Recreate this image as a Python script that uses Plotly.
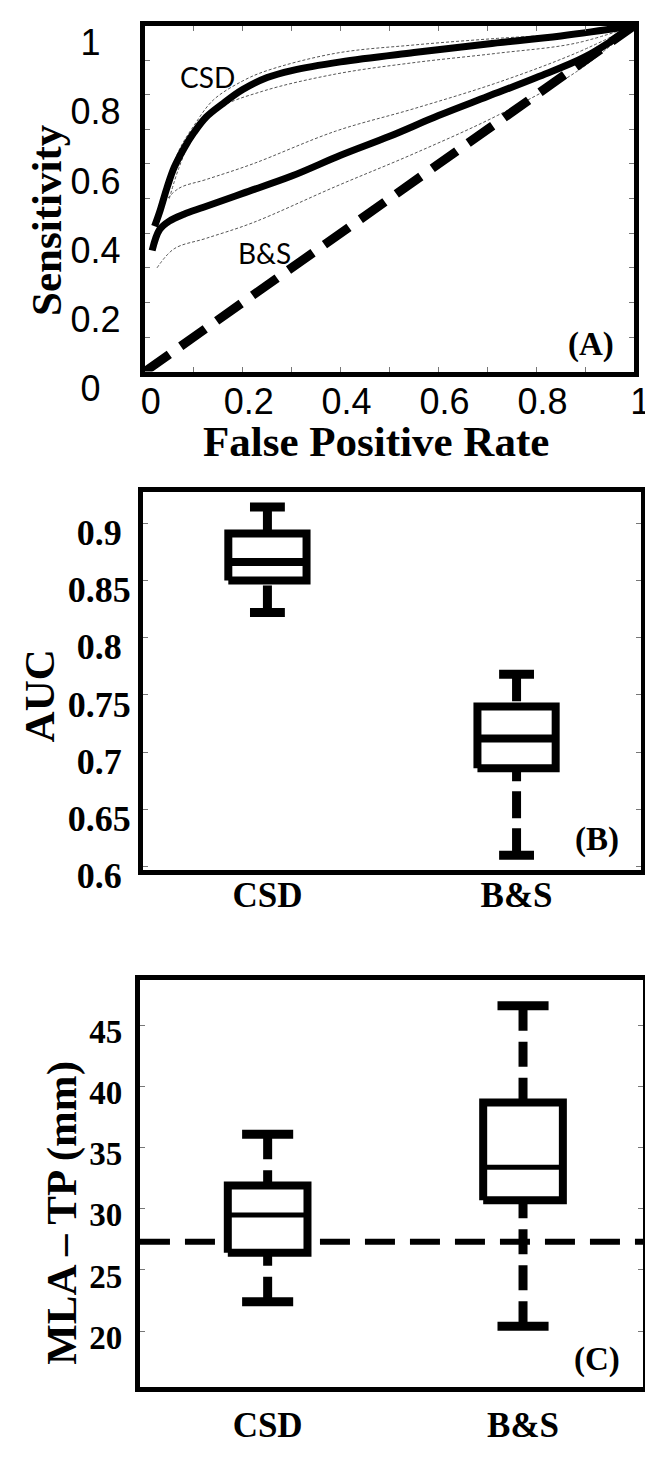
import plotly.graph_objects as go

# ---------------- Data ----------------
# Panel A: ROC curves (false positive rate vs sensitivity)
csd_fpr = [0.02, 0.03, 0.045, 0.06, 0.08, 0.10, 0.125, 0.16, 0.20, 0.25, 0.30, 0.40, 0.55, 0.70, 0.85, 1.0]
csd_tpr = [0.42, 0.46, 0.53, 0.59, 0.645, 0.69, 0.735, 0.775, 0.815, 0.85, 0.87, 0.895, 0.922, 0.947, 0.97, 1.0]
csd_hi_fpr = [0.04, 0.05, 0.07, 0.10, 0.14, 0.20, 0.25, 0.39, 0.55, 0.72, 0.88, 1.0]
csd_hi_tpr = [0.50, 0.56, 0.64, 0.71, 0.785, 0.84, 0.87, 0.92, 0.944, 0.963, 0.978, 1.0]
csd_lo_fpr = [0.05, 0.07, 0.10, 0.15, 0.24, 0.39, 0.55, 0.72, 0.88, 1.0]
csd_lo_tpr = [0.50, 0.59, 0.685, 0.76, 0.81, 0.86, 0.893, 0.92, 0.949, 1.0]

bs_fpr = [0.015, 0.03, 0.05, 0.08, 0.12, 0.20, 0.30, 0.40, 0.50, 0.60, 0.70, 0.80, 0.90, 1.0]
bs_tpr = [0.35, 0.41, 0.435, 0.455, 0.475, 0.515, 0.565, 0.625, 0.68, 0.74, 0.795, 0.85, 0.91, 1.0]
bs_hi_fpr = [0.04, 0.07, 0.125, 0.22, 0.39, 0.55, 0.72, 0.88, 1.0]
bs_hi_tpr = [0.49, 0.53, 0.555, 0.60, 0.695, 0.76, 0.835, 0.92, 1.0]
bs_lo_fpr = [0.025, 0.06, 0.125, 0.22, 0.39, 0.55, 0.72, 0.88, 1.0]
bs_lo_tpr = [0.30, 0.355, 0.385, 0.43, 0.535, 0.63, 0.74, 0.865, 1.0]

chance_fpr = [0.0, 1.0]
chance_tpr = [0.0, 1.0]

a_ticks = [0, 0.2, 0.4, 0.6, 0.8, 1]
a_ticktext = ["0", "0.2", "0.4", "0.6", "0.8", "1"]

# Panel B / C: box plot summaries  [lower whisker, Q1, median, Q3, upper whisker]
categories = ["CSD", "B&S"]
auc_stats = {
    "CSD": [0.822, 0.850, 0.866, 0.891, 0.914],
    "B&S": [0.610, 0.686, 0.712, 0.740, 0.768],
}
auc_ticks = [0.6, 0.65, 0.7, 0.75, 0.8, 0.85, 0.9]
auc_ticktext = ["0.6", "0.65", "0.7", "0.75", "0.8", "0.85", "0.9"]

mla_stats = {
    "CSD": [22.4, 26.4, 29.5, 31.9, 36.1],
    "B&S": [20.4, 30.7, 33.4, 38.7, 46.6],
}
mla_reference = 27.3
mla_ticks = [20, 25, 30, 35, 40, 45]
mla_ticktext = ["20", "25", "30", "35", "40", "45"]

# ---------------- Figure ----------------
W, H = 653, 1465
SERIF = "Liberation Serif, Times New Roman, serif"
SANS = "Liberation Sans, Arial, sans-serif"

fig = go.Figure()

def px(xp):
    return xp / W

def py(yp):
    return 1 - yp / H

# --- Panel A traces ---
thin = dict(color="#555555", width=1, dash="3px,2px")
for fx, fy in [(csd_hi_fpr, csd_hi_tpr), (csd_lo_fpr, csd_lo_tpr),
               (bs_hi_fpr, bs_hi_tpr), (bs_lo_fpr, bs_lo_tpr)]:
    fig.add_trace(go.Scatter(x=fx, y=fy, mode="lines", line=dict(thin, shape="spline"),
                             xaxis="x", yaxis="y", showlegend=False, hoverinfo="skip"))
fig.add_trace(go.Scatter(x=chance_fpr, y=chance_tpr, mode="lines",
                         line=dict(color="black", width=9, dash="30px,14px"),
                         xaxis="x", yaxis="y", showlegend=False))
fig.add_trace(go.Scatter(x=csd_fpr, y=csd_tpr, mode="lines", name="CSD",
                         line=dict(color="black", width=7, shape="spline"),
                         xaxis="x", yaxis="y", showlegend=False))
fig.add_trace(go.Scatter(x=bs_fpr, y=bs_tpr, mode="lines", name="B&S",
                         line=dict(color="black", width=7, shape="spline"),
                         xaxis="x", yaxis="y", showlegend=False))


def add_boxes(stats, xa, ya, half_box, half_cap, med_width, dash):
    for i, cat in enumerate(categories, start=1):
        lo, q1, med, q3, hi = stats[cat]
        # whiskers (dashed, drawn from cap toward box)
        for a, b in [(hi, q3), (lo, q1)]:
            fig.add_trace(go.Scatter(x=[i, i], y=[a, b], mode="lines",
                                     line=dict(color="black", width=9, dash=dash),
                                     xaxis=xa, yaxis=ya, showlegend=False, hoverinfo="skip"))
        # caps
        for v in (lo, hi):
            fig.add_trace(go.Scatter(x=[i - half_cap, i + half_cap], y=[v, v], mode="lines",
                                     line=dict(color="black", width=9),
                                     xaxis=xa, yaxis=ya, showlegend=False, hoverinfo="skip"))
        # box
        fig.add_trace(go.Scatter(x=[i - half_box, i + half_box, i + half_box, i - half_box, i - half_box],
                                 y=[q1, q1, q3, q3, q1], mode="lines",
                                 line=dict(color="black", width=8),
                                 fill="toself", fillcolor="white",
                                 xaxis=xa, yaxis=ya, showlegend=False, name=cat))
        # median
        fig.add_trace(go.Scatter(x=[i - half_box, i + half_box], y=[med, med], mode="lines",
                                 line=dict(color="black", width=med_width),
                                 xaxis=xa, yaxis=ya, showlegend=False, hoverinfo="skip"))


add_boxes(auc_stats, "x2", "y2", 0.157, 0.07, 8, "27px,10px")
add_boxes(mla_stats, "x3", "y3", 0.156, 0.10, 5, "25px,11px")

# reference dashed line in panel C
fig.add_shape(type="line", xref="x3 domain", yref="y3", x0=0, x1=1,
              y0=mla_reference, y1=mla_reference,
              line=dict(color="black", width=6, dash="30px,15px"), layer="below")

axis_common = dict(showline=True, linecolor="black", linewidth=5, mirror="allticks",
                   showgrid=False, zeroline=False, ticks="inside", tickcolor="#777777",
                   tickwidth=1, ticklen=5, ticklabeloverflow="allow")

a_ytext = [t + "\u00a0\u00a0" if len(t) == 1 else t for t in a_ticktext]
auc_ytext = [t + "\u00a0" if len(t) == 3 else t for t in auc_ticktext]

fig.update_layout(
    width=W, height=H, autosize=False,
    margin=dict(l=0, r=0, t=0, b=0),
    paper_bgcolor="white", plot_bgcolor="white",
    showlegend=False,
    xaxis=dict(axis_common, domain=[px(137), px(642)], range=[0, 1], anchor="y",
               tickvals=a_ticks, ticktext=a_ticktext,
               minor=dict(dtick=0.1, ticks="inside", ticklen=5, tickcolor="#777777"),
               tickfont=dict(family=SANS, size=36, color="black"),
               ticklabelshift=6, ticklabelstandoff=-6),
    yaxis=dict(axis_common, domain=[py(371), py(15)], range=[0, 1], anchor="x",
               tickvals=a_ticks, ticktext=a_ytext,
               minor=dict(dtick=0.1, ticks="inside", ticklen=5, tickcolor="#777777"),
               tickfont=dict(family=SANS, size=36, color="black"),
               ticklabelshift=17, ticklabelstandoff=12),
    xaxis2=dict(axis_common, domain=[px(135), px(649)], range=[0.5, 2.5], anchor="y2",
                ticks="", tickvals=[1, 2], ticktext=categories,
                tickfont=dict(family=SERIF, size=35, color="black", weight="bold"),
                ticklabelstandoff=-10),
    yaxis2=dict(axis_common, domain=[py(884), py(495)], range=[0.597, 0.927], anchor="x2",
                tickvals=auc_ticks, ticktext=auc_ytext,
                tickfont=dict(family=SERIF, size=36, color="black", weight="bold"),
                ticklabelshift=9, ticklabelstandoff=0),
    xaxis3=dict(axis_common, domain=[px(132), px(651)], range=[0.5, 2.47], anchor="y3",
                ticks="", tickvals=[1, 2], ticktext=categories,
                tickfont=dict(family=SERIF, size=35, color="black", weight="bold"),
                ticklabelstandoff=3),
    yaxis3=dict(axis_common, domain=[py(1416), py(997)], range=[15.4, 48.7], anchor="x3",
                tickvals=mla_ticks, ticktext=mla_ticktext,
                tickfont=dict(family=SERIF, size=33, color="black", weight="bold"),
                ticklabelshift=6, ticklabelstandoff=6),
)

title_font = dict(family=SERIF, size=43, color="black", weight="bold")
annotations = [
    dict(text="Sensitivity", x=px(36), y=py(215), textangle=-90, font=title_font),
    dict(text="False Positive Rate", x=px(376), y=py(443), font=title_font),
    dict(text="AUC", x=px(28), y=py(705), textangle=-90, font=title_font),
    dict(text="MLA \u2013 TP (mm)", x=px(52), y=py(1236), textangle=-90, font=title_font),
    dict(text="(A)", x=px(597), y=py(343), font=dict(family=SERIF, size=33, color="black", weight="bold")),
    dict(text="(B)", x=px(603), y=py(852), font=dict(family=SERIF, size=33, color="black", weight="bold")),
    dict(text="(C)", x=px(603), y=py(1387), font=dict(family=SERIF, size=33, color="black", weight="bold")),
]
for a in annotations:
    a.update(xref="paper", yref="paper", showarrow=False, xanchor="center", yanchor="middle")
    fig.add_annotation(**a)

fig.add_annotation(text="CSD", x=0.129, y=0.85, xref="x", yref="y", showarrow=False,
                   font=dict(family="Lato, Open Sans, sans-serif", size=28, color="black"))
fig.add_annotation(text="B&amp;S", x=0.244, y=0.344, xref="x", yref="y", showarrow=False,
                   font=dict(family="Lato, Open Sans, sans-serif", size=28, color="black"))

fig.write_html("out.html")
